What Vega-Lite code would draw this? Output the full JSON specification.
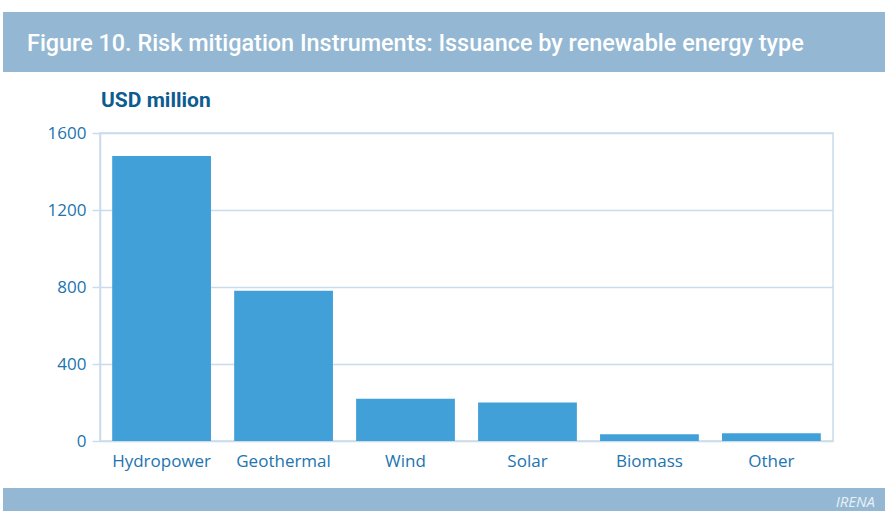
{
  "$schema": "https://vega.github.io/schema/vega-lite/v6.json",
  "background": "white",
  "padding": {"top": 12, "left": 3, "right": 0, "bottom": 0},
  "spacing": 17,
  "config": {"font": "Open Sans"},
  "vconcat": [
    {
      "width": 882,
      "height": 60,
      "view": {"fill": "#94b8d3", "stroke": null},
      "data": {"values": []},
      "mark": "rect",
      "encoding": {},
      "title": {
        "text": "Figure 10. Risk mitigation Instruments: Issuance by renewable energy type",
        "orient": "top",
        "anchor": "start",
        "frame": "group",
        "offset": -44,
        "dx": 24,
        "color": "white",
        "font": "Roboto",
        "fontSize": 23.4,
        "fontWeight": 500
      }
    },
    {
      "spacing": 0,
      "hconcat": [
        {
          "width": 1,
          "height": 308,
          "view": {"stroke": null},
          "data": {"values": []},
          "mark": "rect",
          "encoding": {}
        },
        {
          "width": 733,
          "height": 308,
          "view": {"stroke": "#c9dcec", "strokeWidth": 1.5},
          "data": {
            "values": [
              {"type": "Hydropower", "usd": 1480},
              {"type": "Geothermal", "usd": 780},
              {"type": "Wind", "usd": 220},
              {"type": "Solar", "usd": 200},
              {"type": "Biomass", "usd": 35},
              {"type": "Other", "usd": 40}
            ]
          },
          "title": {
            "text": "USD million",
            "orient": "top",
            "anchor": "start",
            "frame": "group",
            "offset": 13,
            "dx": 1,
            "color": "#0d5c91",
            "font": "Roboto",
            "fontSize": 21,
            "fontWeight": "bold"
          },
          "mark": {"type": "bar", "color": "#42a0d9"},
          "encoding": {
            "x": {
              "field": "type",
              "type": "nominal",
              "sort": null,
              "scale": {"paddingInner": 0.19, "paddingOuter": 0.1},
              "axis": {
                "title": null,
                "labelAngle": 0,
                "ticks": false,
                "domain": false,
                "labelPadding": 12,
                "labelFontSize": 17,
                "labelColor": "#2174af",
                "labelFont": "Open Sans",
                "minExtent": 29,
                "maxExtent": 29
              }
            },
            "y": {
              "field": "usd",
              "type": "quantitative",
              "scale": {"domain": [0, 1600], "nice": false},
              "axis": {
                "title": null,
                "format": "d",
                "values": [0, 400, 800, 1200, 1600],
                "tickSize": 8,
                "tickColor": "#c9dcec",
                "tickWidth": 1.5,
                "domainColor": "#c9dcec",
                "domainWidth": 1.5,
                "gridColor": "#c9dcec",
                "gridWidth": 1.5,
                "labelPadding": 6,
                "labelFontSize": 17,
                "labelColor": "#2174af",
                "labelFont": "Open Sans",
                "minExtent": 95,
                "maxExtent": 95
              }
            }
          }
        }
      ]
    },
    {
      "width": 882,
      "height": 25,
      "view": {"fill": "#94b8d3", "stroke": null},
      "data": {"values": []},
      "mark": "rect",
      "encoding": {},
      "title": {
        "text": "IRENA",
        "orient": "top",
        "anchor": "end",
        "frame": "group",
        "offset": -22,
        "dx": -10,
        "color": "#e8f0f6",
        "font": "Open Sans",
        "fontSize": 15,
        "fontStyle": "italic",
        "fontWeight": "normal"
      }
    }
  ]
}
